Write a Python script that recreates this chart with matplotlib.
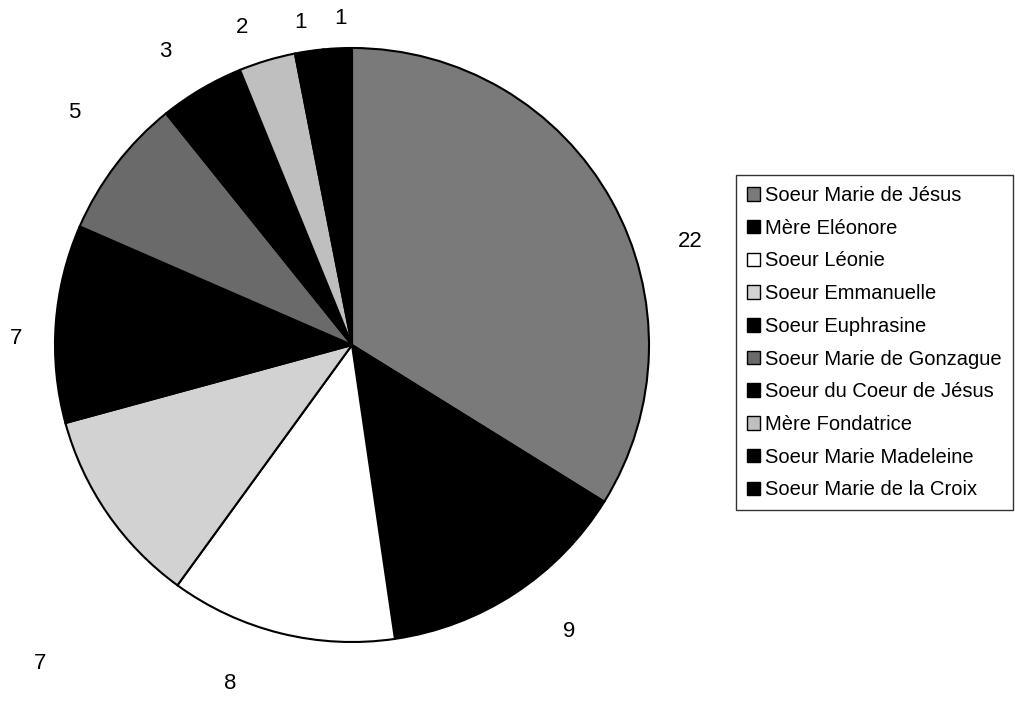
import numpy as np
import matplotlib
matplotlib.use('Agg')
from matplotlib import pyplot as plt
from matplotlib.patches import Patch

plt.rcParams['font.family'] = ['Liberation Sans', 'DejaVu Sans']

names = ['Soeur Marie de Jésus', 'Mère Eléonore', 'Soeur Léonie',
         'Soeur Emmanuelle', 'Soeur Euphrasine', 'Soeur Marie de Gonzague',
         'Soeur du Coeur de Jésus', 'Mère Fondatrice', 'Soeur Marie Madeleine',
         'Soeur Marie de la Croix']
counts = [22, 9, 8, 7, 7, 5, 3, 2, 1, 1]
shades = ['#7a7a7a', '#000000', '#ffffff', '#d2d2d2', '#000000',
          '#6a6a6a', '#000000', '#bfbfbf', '#000000', '#000000']

# where each value label sits: angle shift (deg) and distance (radii)
label_shift = [-12, 4, -6, 11, 3, -2.5, 2, 2.5, 0.7, -0.8]
label_dist = [1.19, 1.21, 1.21, 1.50, 1.13, 1.22, 1.17, 1.13, 1.10, 1.10]

fig = plt.figure(figsize=(10.15, 7.01), dpi=100)
# axes sized so the pie sits at the left with radius ~297 px
R = 297.0
lim = 1.2
W, H = 1015.0, 701.0
cx, cy = 352.0, 345.0
ax = fig.add_axes([(cx - lim * R) / W, (H - cy - lim * R) / H,
                   2 * lim * R / W, 2 * lim * R / H])

wedges, _ = ax.pie(counts, colors=shades, startangle=90, counterclock=False,
                   radius=1.0, frame=True,
                   wedgeprops=dict(edgecolor='black', linewidth=1.5))
ax.set_xlim(-lim, lim)
ax.set_ylim(-lim, lim)
ax.axis('off')

for w, n, s, d in zip(wedges, counts, label_shift, label_dist):
    a = np.deg2rad((w.theta1 + w.theta2) / 2.0 + s)
    ax.text(d * np.cos(a), d * np.sin(a), str(n), ha='center',
            va='center', fontsize=16)

handles = [Patch(facecolor=c, edgecolor='black', linewidth=1) for c in shades]
leg = fig.legend(handles, names, loc='upper left',
                 bbox_to_anchor=(736 / W, 1 - 175 / H), frameon=True,
                 fancybox=False, shadow=False, fontsize=14.5,
                 handlelength=0.65, handleheight=0.65, handletextpad=0.25,
                 labelspacing=0.68, borderpad=0.55, borderaxespad=0)
leg.get_frame().set_edgecolor('black')
leg.get_frame().set_linewidth(1.0)

plt.savefig('out.png', dpi=100)
